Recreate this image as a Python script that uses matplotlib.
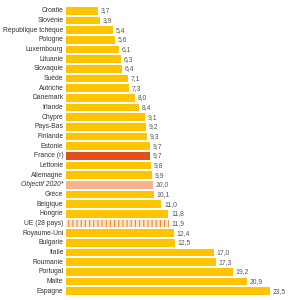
import matplotlib.pyplot as plt

countries = [
    "Croatie", "Slovénie", "République tchèque", "Pologne", "Luxembourg",
    "Lituanie", "Slovaquie", "Suède", "Autriche", "Danemark", "Irlande",
    "Chypre", "Pays-Bas", "Finlande", "Estonie", "France (r)", "Lettonie",
    "Allemagne", "Objectif 2020*", "Grèce", "Belgique", "Hongrie",
    "UE (28 pays)", "Royaume-Uni", "Bulgarie", "Italie", "Roumanie",
    "Portugal", "Malte", "Espagne",
]
values = [
    3.7, 3.9, 5.4, 5.6, 6.1, 6.3, 6.4, 7.1, 7.3, 8.0, 8.4, 9.1, 9.2, 9.3,
    9.7, 9.7, 9.8, 9.9, 10.0, 10.1, 11.0, 11.8, 11.9, 12.4, 12.5, 17.0,
    17.3, 19.2, 20.9, 23.5,
]

YELLOW = "#FFC400"
FRANCE = "#E0501E"
TARGET = "#F6B38C"
STRIPE = "#F08A2A"

plt.rcParams["font.family"] = ["Liberation Sans", "DejaVu Sans"]
plt.rcParams["hatch.linewidth"] = 0.8
fs = 4.9

fig = plt.figure(figsize=(2.89, 3.0), dpi=100)
ax = fig.add_axes([66 / 289, 4 / 300, 217 / 289, 290 / 300])

n = len(countries)
for y, (name, val) in enumerate(zip(countries, values)):
    if name.startswith("France"):
        ax.barh(y, val, height=0.8, color=FRANCE, linewidth=0)
    elif name.startswith("Objectif"):
        ax.barh(y, val, height=0.8, color=TARGET, linewidth=0)
    elif name.startswith("UE"):
        ax.barh(y, val, height=0.8, color="#FBE3CC", edgecolor=STRIPE,
                hatch="||||", linewidth=0)
    else:
        ax.barh(y, val, height=0.8, color=YELLOW, linewidth=0)

    style = "italic" if name.startswith("Objectif") else "normal"
    ax.text(-0.3, y, name, ha="right", va="center", fontsize=fs,
            color="#333333", style=style)
    ax.text(val + 0.3, y, f"{val:.1f}".replace(".", ","), ha="left",
            va="center", fontsize=fs, color="#555555", style=style)

ax.set_xlim(0, 25)
ax.set_ylim(n - 0.5, -0.5)
ax.axis("off")

fig.savefig("out.png", dpi=100, facecolor="white")
